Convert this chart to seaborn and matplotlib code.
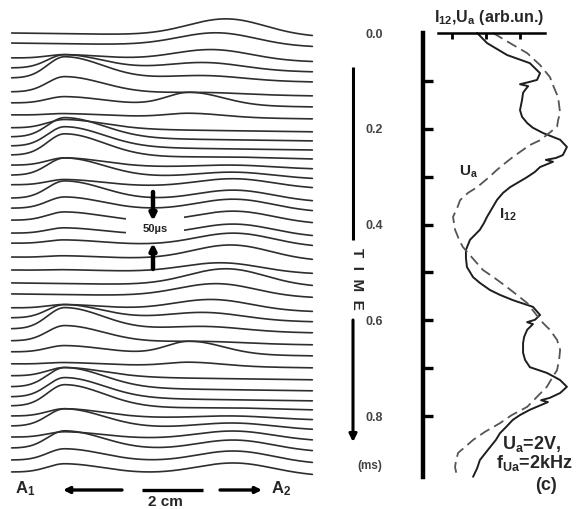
import numpy as np
import pandas as pd
import matplotlib
matplotlib.use('Agg')
import matplotlib.pyplot as plt
from matplotlib.patches import Rectangle
import seaborn as sns

# ------------------------------------------------------------------
# Data
# ------------------------------------------------------------------
# waterfall: start time of each trace (ms)
trace_t0 = [0.000, 0.021, 0.052, 0.073, 0.094, 0.123, 0.146, 0.171, 0.198, 0.217,
            0.236, 0.255, 0.276, 0.297, 0.317, 0.345, 0.366, 0.391, 0.418, 0.439,
            0.468, 0.495,
            0.522, 0.545, 0.574, 0.595, 0.618, 0.643, 0.666, 0.691, 0.716, 0.739,
            0.760, 0.779, 0.800, 0.821, 0.844, 0.867, 0.892, 0.917]
# pulse height at probe A1 (x = 0 cm), arb. units
amp_A1 = [0, 0, 4, 14, 22, 16, 7, 2, 9, 20, 20, 22, 8, 18, 6, 18, 12, 9, 6, 4, 2, 1,
          0, 0, 4, 14, 22, 16, 7, 2, 9, 20, 20, 22, 8, 18, 6, 18, 12, 9]
# pulse height half way (x ~ 1.3 cm)
amp_mid = [0, 0, 0, 0, 0, 0, 13, 4, 0, 0, 0, 0, 0, 0, 0, 0, 0, 0, 0, 0, 0, 0,
           0, 0, 0, 0, 0, 0, 13, 4, 0, 0, 0, 0, 0, 0, 0, 0, 0, 0]
# pulse height near probe A2 and its position (cm)
amp_A2 = [17, 13, 11, 8, 5, 2, 0, 0, 0, 0, 0, 1, 3, 6, 9, 11, 12, 12, 12, 13, 15, 10,
          17, 13, 11, 8, 5, 2, 0, 0, 0, 0, 0, 1, 3, 6, 9, 11, 12, 12]
pos_A2 = [1.67, 1.57, 1.52, 1.44, 1.44, 1.44, 1.75, 1.75, 1.75, 1.75, 1.75, 1.75,
          1.75, 1.75, 1.75, 1.75, 1.75, 1.75, 1.75, 1.75, 1.72, 1.62,
          1.67, 1.57, 1.52, 1.44, 1.44, 1.44, 1.75, 1.75, 1.75, 1.75, 1.75, 1.75,
          1.75, 1.75, 1.75, 1.75, 1.75, 1.75]
x_range_cm = [-0.55, 2.55]

# panel (c): I12 (solid) and Ua (dashed) against time
time_I12 = [0.000, 0.021, 0.046, 0.063, 0.084, 0.098, 0.102, 0.107, 0.111, 0.119,
            0.125, 0.140, 0.161, 0.175, 0.188, 0.198, 0.209, 0.223, 0.238, 0.255,
            0.261, 0.265, 0.269, 0.280, 0.290, 0.301, 0.322, 0.334, 0.349, 0.366,
            0.384, 0.397, 0.411, 0.432, 0.453, 0.470, 0.489, 0.510, 0.522, 0.537,
            0.547, 0.558, 0.572, 0.589, 0.599, 0.604, 0.608, 0.620, 0.635, 0.648,
            0.668, 0.683, 0.698, 0.710, 0.719, 0.725, 0.739, 0.752, 0.762, 0.767,
            0.771, 0.787, 0.798, 0.808, 0.823, 0.836, 0.850, 0.865, 0.892, 0.909,
            0.927]
val_I12 = [1.74, 2.03, 2.62, 3.29, 3.59, 3.50, 3.29, 3.00, 3.24, 3.15,
           3.09, 3.06, 3.00, 3.06, 3.21, 3.38, 3.68, 4.18, 4.38, 4.26,
           4.06, 3.76, 3.97, 3.59, 3.44, 3.21, 2.71, 2.50, 2.32, 2.18,
           2.03, 1.94, 1.82, 1.53, 1.41, 1.41, 1.44, 1.62, 1.82, 2.12,
           2.41, 2.79, 3.38, 3.59, 3.44, 3.21, 3.38, 3.21, 3.12, 3.09,
           3.09, 3.15, 3.29, 3.79, 4.03, 4.18, 4.38, 4.18, 3.88, 3.62,
           3.82, 3.29, 3.00, 2.79, 2.59, 2.41, 2.29, 2.12, 1.82, 1.74,
           1.62]
time_Ua = [0.000, 0.015, 0.042, 0.067, 0.092, 0.109, 0.134, 0.167, 0.182, 0.196,
           0.224, 0.234, 0.259, 0.272, 0.286, 0.303, 0.322, 0.334, 0.349, 0.366,
           0.384, 0.411, 0.432, 0.447, 0.474, 0.495, 0.512, 0.531, 0.547, 0.564,
           0.585, 0.606, 0.620, 0.641, 0.662, 0.683, 0.704, 0.721, 0.739, 0.760,
           0.781, 0.798, 0.815, 0.833, 0.850, 0.865, 0.877, 0.892, 0.907, 0.927]
val_Ua = [2.21, 2.56, 3.21, 3.59, 3.88, 3.97, 4.12, 4.18, 4.12, 4.09,
          3.59, 3.29, 2.79, 2.56, 2.32, 2.06, 1.74, 1.47, 1.24, 1.15,
          1.03, 1.09, 1.21, 1.32, 1.65, 1.91, 2.26, 2.62, 2.91, 3.21,
          3.44, 3.68, 3.88, 4.09, 4.18, 4.15, 4.09, 3.94, 3.79, 3.50,
          3.21, 2.76, 2.41, 1.97, 1.62, 1.38, 1.18, 1.12, 1.09, 1.15]
time_ticks = [0.0, 0.2, 0.4, 0.6, 0.8]
time_minor = [0.1, 0.3, 0.5, 0.7]
amp_ticks = [1, 2, 3]

# ------------------------------------------------------------------
# Style
# ------------------------------------------------------------------
sns.set_style('white')
plt.rcParams['font.family'] = ['Liberation Sans', 'DejaVu Sans']
plt.rcParams['font.weight'] = 'bold'
plt.rcParams['mathtext.fontset'] = 'custom'
plt.rcParams['mathtext.rm'] = 'Liberation Sans:bold'
plt.rcParams['mathtext.it'] = 'Liberation Sans:bold'
plt.rcParams['mathtext.bf'] = 'Liberation Sans:bold'

W, H = 586, 509
PX_PER_MS = 478.75
T_TOP = -33 / PX_PER_MS
T_BOT = (H - 33) / PX_PER_MS
AMP_SCALE = 1.0 / PX_PER_MS   # ms of vertical offset per unit of pulse height

fig = plt.figure(figsize=(W / 100, H / 100), dpi=100)

# ------------------------------------------------------------------
# Waterfall traces
# ------------------------------------------------------------------
x = np.linspace(x_range_cm[0], x_range_cm[1], 500)
frac = (x - x[0]) / (x[-1] - x[0])
# pulse shapes: steep front, slower tail
shape_A1 = np.where(x < 0, np.exp(-0.5 * (x / 0.18) ** 2), np.exp(-0.5 * (x / 0.40) ** 2))
shape_mid = np.where(x < 1.29, np.exp(-0.5 * ((x - 1.29) / 0.24) ** 2),
                     np.exp(-0.5 * ((x - 1.29) / 0.34) ** 2))

frames = []
for k, t0 in enumerate(trace_t0):
    shape_A2 = np.exp(-0.5 * ((x - pos_A2[k]) / 0.40) ** 2)
    bump = amp_A1[k] * shape_A1 + amp_mid[k] * shape_mid + amp_A2[k] * shape_A2
    t = t0 + 4 * AMP_SCALE * frac - AMP_SCALE * bump
    frames.append(pd.DataFrame({'x_cm': x, 't': t, 'trace': k}))
df_w = pd.concat(frames, ignore_index=True)

ax_w = fig.add_axes([0, 0, 330 / W, 1])
sns.lineplot(data=df_w, x='x_cm', y='t', units='trace', estimator=None, sort=False,
             color='#2e2e2e', lw=1.2, legend=False, ax=ax_w)
ax_w.set_xlim(-65 / 97, (330 - 65) / 97)
ax_w.set_ylim(T_BOT, T_TOP)
ax_w.axis('off')

# ------------------------------------------------------------------
# Panel (c)
# ------------------------------------------------------------------
ax_r = fig.add_axes([423 / W, 0, (W - 423) / W, 1])
sns.lineplot(x=val_I12, y=time_I12, sort=False, estimator=None, color='#1e1e1e',
             lw=1.4, ax=ax_r)
sns.lineplot(x=val_Ua, y=time_Ua, sort=False, estimator=None, color='#555555',
             lw=1.3, linestyle=(0, (6, 3)), ax=ax_r)
u0 = 0.147
ax_r.set_xlim(u0, u0 + (W - 423) / 34)
ax_r.set_ylim(T_BOT, T_TOP)
ax_r.set_xlabel('')
ax_r.set_ylabel('')
for s in ['right', 'bottom']:
    ax_r.spines[s].set_visible(False)
ax_r.spines['left'].set_linewidth(3.2)
ax_r.spines['left'].set_color('black')
ax_r.spines['left'].set_bounds(0.0, 0.927)
ax_r.spines['top'].set_position(('data', 0.0))
ax_r.spines['top'].set_linewidth(1.8)
ax_r.spines['top'].set_color('black')
ax_r.spines['top'].set_bounds(0.59, 3.74)

ax_r.xaxis.set_ticks_position('top')
ax_r.set_xticks(amp_ticks)
ax_r.set_xticklabels([])
ax_r.tick_params(axis='x', direction='in', length=4, width=2, colors='black')

ax_r.set_yticks(time_ticks)
ax_r.set_yticklabels([f'{v:.1f}' for v in time_ticks])
ax_r.set_yticks(time_minor, minor=True)
ax_r.tick_params(axis='y', which='both', direction='in', length=7, width=2.4,
                 color='black', left=True)
ax_r.tick_params(axis='y', which='major', pad=29, labelsize=9, labelcolor='#444444')
ax_r.yaxis.get_major_ticks()[0].tick1line.set_visible(False)
for lab in ax_r.get_yticklabels():
    lab.set_fontweight('bold')

# ------------------------------------------------------------------
# Annotations (figure pixel coordinates)
# ------------------------------------------------------------------
ax_n = fig.add_axes([0, 0, 1, 1], zorder=5)
ax_n.set_xlim(0, W)
ax_n.set_ylim(H, 0)
ax_n.axis('off')

# gap in the traces for the 50 us marker
ax_n.add_patch(Rectangle((126, 213), 58, 26, facecolor='white', edgecolor='none'))
arrow = dict(arrowstyle='-|>', lw=3.2, color='black', mutation_scale=9,
             shrinkA=0, shrinkB=0)
ax_n.annotate('', xy=(153, 221), xytext=(153, 192), arrowprops=arrow)
ax_n.annotate('', xy=(153, 243), xytext=(153, 269), arrowprops=arrow)
ax_n.text(155, 229, '50µs', ha='center', va='center', fontsize=8, color='#222222')

# probe axis at the bottom
bar = dict(arrowstyle='-|>', lw=2.4, color='black', mutation_scale=9,
           shrinkA=0, shrinkB=0)
ax_n.annotate('', xy=(63, 490), xytext=(122, 490), arrowprops=bar)
ax_n.plot([142, 203], [490, 490], color='black', lw=2.4, solid_capstyle='butt')
ax_n.annotate('', xy=(262, 490), xytext=(220, 490), arrowprops=bar)
ax_n.text(25, 489, 'A$_1$', ha='center', va='center', fontsize=12)
ax_n.text(281, 489, 'A$_2$', ha='center', va='center', fontsize=12)
ax_n.text(165, 502, '2 cm', ha='center', va='center', fontsize=11)

# time arrow
ax_n.plot([353, 353], [67, 240], color='black', lw=2.2, solid_capstyle='butt')
ax_n.annotate('', xy=(353, 442), xytext=(353, 320),
              arrowprops=dict(arrowstyle='-|>', lw=2.2, color='black',
                              mutation_scale=11, shrinkA=0, shrinkB=0))
ax_n.text(357, 279, 'T  I  M  E', rotation=-90, ha='center', va='center', fontsize=11)
ax_n.text(370, 466, '(ms)', ha='center', va='center', fontsize=8.5, color='#444444')

# panel (c) labels
ax_n.text(489, 17, 'I$_{12}$,U$_a$ (arb.un.)', ha='center', va='center', fontsize=11.5)
ax_n.text(469, 172, 'U$_a$', ha='center', va='center', fontsize=11)
ax_n.text(508, 215, 'I$_{12}$', ha='center', va='center', fontsize=11)
ax_n.text(502, 444, 'U$_a$=2V,', ha='left', va='center', fontsize=13)
ax_n.text(496, 463, 'f$_{Ua}$=2kHz', ha='left', va='center', fontsize=13)
ax_n.text(546, 485, '(c)', ha='center', va='center', fontsize=13)

fig.savefig('out.png', dpi=100, facecolor='white')
